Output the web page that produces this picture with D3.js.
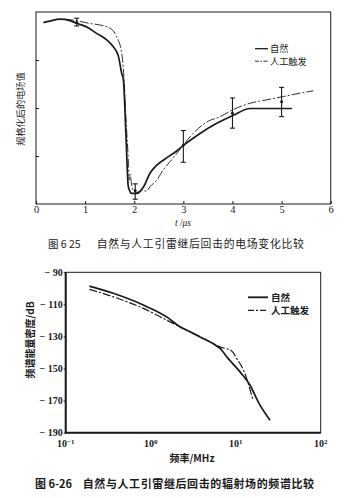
<!DOCTYPE html>
<html>
<head>
<meta charset="utf-8">
<script src="https://cdn.jsdelivr.net/npm/d3@7/dist/d3.min.js"></script>
<style>
  html, body { margin: 0; padding: 0; background: #fff; }
  svg { display: block; }
  .num { font-family: "Liberation Serif", "DejaVu Serif", serif; }
  .cjk { font-family: "Noto Sans CJK SC", sans-serif; }
</style>
</head>
<body>
<script>
// ---------- Fig. 6-25: normalized E-field of subsequent return strokes ----------
const fieldTicks = [0, 1, 2, 3, 4, 5, 6];           // t / µs
const fieldYTicks = [1, 2, 3];                       // unlabelled gridmarks

const naturalT = [0.15, 0.28, 0.49, 0.69, 0.84, 1.03, 1.24, 1.44, 1.57, 1.68, 1.745, 1.78, 1.83, 1.88, 1.95, 2.05, 2.19, 2.32, 2.46, 2.66, 2.87, 3.0, 3.34, 3.68, 4.02, 4.36, 4.7, 5.21];
const naturalV = [3.78, 3.81, 3.85, 3.82, 3.76, 3.69, 3.55, 3.42, 3.28, 3.07, 2.72, 2.58, 1.47, 0.36, 0.22, 0.22, 0.36, 0.64, 0.81, 0.96, 1.11, 1.22, 1.47, 1.68, 1.85, 1.99, 1.99, 1.99];

const triggeredT = [0.59, 0.83, 1.1, 1.3, 1.51, 1.64, 1.745, 1.79, 1.83, 1.88, 1.9, 1.92, 1.94, 1.97, 2.05, 2.15, 2.25, 2.32, 2.46, 2.59, 2.73, 2.87, 3.0, 3.2, 3.48, 3.75, 4.02, 4.36, 4.7, 5.04, 5.38, 5.65];
const triggeredV = [3.85, 3.82, 3.76, 3.73, 3.66, 3.49, 3.14, 2.65, 1.82, 0.92, 0.5, 0.62, 0.45, 0.3, 0.24, 0.28, 0.27, 0.36, 0.5, 0.71, 0.88, 1.06, 1.23, 1.47, 1.71, 1.82, 1.97, 2.1, 2.17, 2.24, 2.31, 2.36];

const errT    = [0.83, 2.02, 3.0, 4.0, 5.0];
const errMid  = [3.78, 0.28, 1.23, 1.89, 2.13];
const errLow  = [3.71, 0.10, 0.87, 1.58, 1.82];
const errHigh = [3.87, 0.42, 1.53, 2.21, 2.43];

// ---------- Fig. 6-26: spectral energy density ----------
const specYTicks = [-90, -110, -130, -150, -170, -190];
const specXTicks = [0.1, 1, 10, 100];
const specXExp = ["−1", "0", "1", "2"];

const naturalF  = [0.19, 0.363, 0.819, 1.54, 2.21, 2.9, 4.13, 5.45, 6.53, 8.18, 11.25, 14.76, 18.45, 25.4];
const naturalDB = [-98.6, -103.1, -110.4, -117.8, -124, -127.1, -131.3, -134.5, -137.5, -143.8, -152.1, -160.4, -170.9, -182.3];

const triggeredF  = [0.19, 0.363, 0.819, 1.54, 2.9, 4.13, 5.45, 6.53, 8.97, 10.28, 12.85, 14.06, 15.42, 16.1];
const triggeredDB = [-100.6, -105.3, -112.5, -119.8, -127.1, -131.0, -134.5, -136.5, -139, -143.8, -153.1, -159.4, -166.7, -169.8];

const legendNames = ["自然", "人工触发"];

const W = 348, H = 498;
const svg = d3.select("body").append("svg").attr("width", W).attr("height", H);
svg.append("rect").attr("width", W).attr("height", H).attr("fill", "#fff");

const ink = "#1a1a1a";

// ================= upper chart =================
{
  const x = d3.scaleLinear().domain([0, 6]).range([36, 330.7]);
  const y = d3.scaleLinear().domain([0, 4]).range([204, 12]);
  const g = svg.append("g");

  g.append("rect").attr("x", x(0)).attr("y", y(4))
    .attr("width", x(6) - x(0)).attr("height", y(0) - y(4))
    .attr("fill", "none").attr("stroke", ink).attr("stroke-width", 1);

  const xAxis = d3.axisBottom(x).tickValues(fieldTicks).tickFormat(d3.format("d"))
    .tickSizeInner(-3).tickSizeOuter(0).tickPadding(2);
  const gx = g.append("g").attr("transform", `translate(0,${y(0)})`).call(xAxis);
  gx.select(".domain").remove();
  gx.selectAll("line").attr("stroke", ink);
  gx.selectAll("text").attr("class", "num").attr("font-size", 10.5).attr("fill", ink);

  const yAxis = d3.axisLeft(y).tickValues(fieldYTicks).tickSizeInner(-3).tickSizeOuter(0).tickFormat("");
  const gy = g.append("g").attr("transform", `translate(${x(0)},0)`).call(yAxis);
  gy.select(".domain").remove();
  gy.selectAll("line").attr("stroke", ink);

  const line = d3.line().x(d => x(d[0])).y(d => y(d[1])).curve(d3.curveMonotoneX);
  g.append("path").datum(d3.zip(triggeredT, triggeredV)).attr("d", line)
    .attr("fill", "none").attr("stroke", ink).attr("stroke-width", 0.9)
    .attr("stroke-dasharray", "9,2,2,2");
  g.append("path").datum(d3.zip(naturalT, naturalV)).attr("d", line)
    .attr("fill", "none").attr("stroke", ink).attr("stroke-width", 1.7);

  // error bars with mean markers
  const eb = g.append("g").selectAll("g").data(errT.map((t, i) => ({ t, m: errMid[i], lo: errLow[i], hi: errHigh[i] })))
    .join("g");
  eb.append("line").attr("x1", d => x(d.t)).attr("x2", d => x(d.t))
    .attr("y1", d => y(d.lo)).attr("y2", d => y(d.hi)).attr("stroke", ink).attr("stroke-width", 1.1);
  eb.append("line").attr("x1", d => x(d.t) - 2.5).attr("x2", d => x(d.t) + 2.5)
    .attr("y1", d => y(d.lo)).attr("y2", d => y(d.lo)).attr("stroke", ink).attr("stroke-width", 1.1);
  eb.append("line").attr("x1", d => x(d.t) - 2.5).attr("x2", d => x(d.t) + 2.5)
    .attr("y1", d => y(d.hi)).attr("y2", d => y(d.hi)).attr("stroke", ink).attr("stroke-width", 1.1);
  eb.append("circle").attr("cx", d => x(d.t)).attr("cy", d => y(d.m)).attr("r", 1.5).attr("fill", ink);

  // legend
  const lg = g.append("g");
  [0, 1].forEach(i => {
    const ly = 48.7 + i * 12.5;
    lg.append("line").attr("x1", 255).attr("x2", 268).attr("y1", ly).attr("y2", ly)
      .attr("stroke", ink).attr("stroke-width", i === 0 ? 1.3 : 0.9)
      .attr("stroke-dasharray", i === 0 ? null : "4,1.5,1.5,1.5");
    lg.append("text").attr("class", "cjk").attr("x", 270).attr("y", ly + 3.4)
      .attr("font-size", 9.2).attr("fill", ink).text(legendNames[i]);
  });

  // axis titles
  g.append("text").attr("class", "cjk").attr("transform", "translate(23.5,109) rotate(-90)")
    .attr("text-anchor", "middle").attr("font-size", 9.2).attr("fill", ink).text("规格化后的电场值");
  const tt = g.append("text").attr("class", "num").attr("x", 183).attr("y", 226)
    .attr("text-anchor", "middle").attr("font-size", 9.5).attr("fill", ink);
  tt.append("tspan").attr("font-style", "italic").text("t");
  tt.append("tspan").text(" /");
  tt.append("tspan").attr("font-style", "italic").text("μs");

  // caption
  g.append("text").attr("class", "cjk").attr("x", 48).attr("y", 247.5)
    .attr("font-size", 10.5).attr("fill", ink).text("图 6 25");
  g.append("text").attr("class", "cjk").attr("x", 96.7).attr("y", 247.5)
    .attr("font-size", 10.8).attr("letter-spacing", 0.75).attr("fill", ink)
    .text("自然与人工引雷继后回击的电场变化比较");
}

// ================= lower chart =================
{
  const x = d3.scaleLog().domain([0.1, 100]).range([65.7, 320.7]);
  const y = d3.scaleLinear().domain([-190, -90]).range([432.7, 272.3]);
  const g = svg.append("g");

  // frame: heavier left and bottom
  g.append("rect").attr("x", x(0.1)).attr("y", y(-90))
    .attr("width", x(100) - x(0.1)).attr("height", y(-190) - y(-90))
    .attr("fill", "none").attr("stroke", ink).attr("stroke-width", 1);
  g.append("path").attr("d", `M${x(0.1)},${y(-90)}V${y(-190)}H${x(100)}`)
    .attr("fill", "none").attr("stroke", ink).attr("stroke-width", 2);

  const yAxis = d3.axisLeft(y).tickValues(specYTicks).tickSizeInner(2).tickSizeOuter(0).tickPadding(1)
    .tickFormat(d => "− " + Math.abs(d));
  const gy = g.append("g").attr("transform", `translate(${x(0.1)},0)`).call(yAxis);
  gy.select(".domain").remove();
  gy.selectAll("line").attr("stroke", ink);
  gy.selectAll("text").attr("class", "num").attr("font-size", 10).attr("font-weight", "bold").attr("fill", ink);

  const xt = g.append("g").selectAll("text").data(specXTicks).join("text")
    .attr("class", "num").attr("x", d => x(d)).attr("y", 447).attr("text-anchor", "middle")
    .attr("font-size", 10).attr("font-weight", "bold").attr("fill", ink);
  xt.append("tspan").text("10");
  xt.append("tspan").attr("dy", -3.5).attr("font-size", 7).text((d, i) => specXExp[i]);

  const line = d3.line().x(d => x(d[0])).y(d => y(d[1])).curve(d3.curveMonotoneX);
  g.append("path").datum(d3.zip(triggeredF, triggeredDB)).attr("d", line)
    .attr("fill", "none").attr("stroke", ink).attr("stroke-width", 1.2)
    .attr("stroke-dasharray", "8,2,2,2");
  g.append("path").datum(d3.zip(naturalF, naturalDB)).attr("d", line)
    .attr("fill", "none").attr("stroke", ink).attr("stroke-width", 1.7);

  // legend
  const lg = g.append("g");
  [0, 1].forEach(i => {
    const ly = 297.3 + i * 13;
    lg.append("line").attr("x1", 248).attr("x2", 268).attr("y1", ly).attr("y2", ly)
      .attr("stroke", ink).attr("stroke-width", i === 0 ? 1.8 : 1.3)
      .attr("stroke-dasharray", i === 0 ? null : "6,2,2,2");
    lg.append("text").attr("class", "cjk").attr("x", 271).attr("y", ly + 3.5)
      .attr("font-size", 9.5).attr("font-weight", "bold").attr("fill", ink).text(legendNames[i]);
  });

  // axis titles
  g.append("text").attr("class", "cjk").attr("transform", "translate(33.5,340) rotate(-90)")
    .attr("text-anchor", "middle").attr("font-size", 10).attr("font-weight", "bold").attr("fill", ink)
    .text("频谱能量密度/dB");
  g.append("text").attr("class", "cjk").attr("x", 192).attr("y", 462)
    .attr("text-anchor", "middle").attr("font-size", 10).attr("font-weight", "bold").attr("fill", ink)
    .text("频率/MHz");

  // caption
  g.append("text").attr("class", "cjk").attr("x", 35).attr("y", 487.5)
    .attr("font-size", 11).attr("font-weight", "bold").attr("fill", ink).text("图 6-26");
  g.append("text").attr("class", "cjk").attr("x", 82.7).attr("y", 487.5)
    .attr("font-size", 11).attr("font-weight", "bold").attr("letter-spacing", 0.6).attr("fill", ink)
    .text("自然与人工引雷继后回击的辐射场的频谱比较");
}
</script>
</body>
</html>
